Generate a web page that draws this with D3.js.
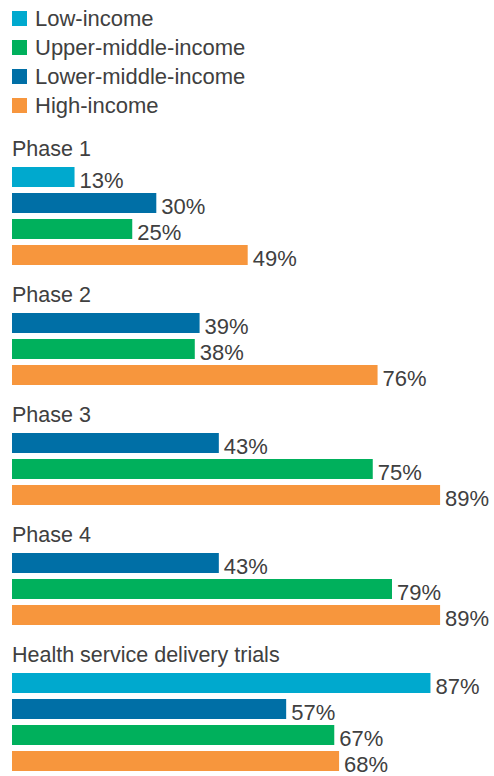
<!DOCTYPE html>
<html>
<head>
<meta charset="utf-8">
<script src="https://cdn.jsdelivr.net/npm/d3@7"></script>
<style>
  body { margin: 0; background: #fff; }
  svg { display: block; }
  text { font-family: "Liberation Sans", Arial, sans-serif; fill: #404040; font-size: 22px; }
  .title { font-size: 21.5px; }
</style>
</head>
<body>
<div id="chart"></div>
<script>
// legend / series
const groups = ['Low-income', 'Upper-middle-income', 'Lower-middle-income', 'High-income'];
const colors = ['#00a9ce', '#00b05c', '#006fa6', '#f7963d'];

// sections, bars listed top to bottom
const sections = ['Phase 1', 'Phase 2', 'Phase 3', 'Phase 4', 'Health service delivery trials'];
const barGroups = [
  ['Low-income', 'Lower-middle-income', 'Upper-middle-income', 'High-income'],
  ['Lower-middle-income', 'Upper-middle-income', 'High-income'],
  ['Lower-middle-income', 'Upper-middle-income', 'High-income'],
  ['Lower-middle-income', 'Upper-middle-income', 'High-income'],
  ['Low-income', 'Lower-middle-income', 'Upper-middle-income', 'High-income']
];
const barValues = [
  [13, 30, 25, 49],
  [39, 38, 76],
  [43, 75, 89],
  [43, 79, 89],
  [87, 57, 67, 68]
];

const width = 494;
const height = 776;
const left = 12;
const barH = 20;
const pitch = 26;
const sectionGap = 42;
const firstBar = 167;

const color = d3.scaleOrdinal().domain(groups).range(colors);
const x = d3.scaleLinear().domain([0, 100]).range([0, 481]);

const svg = d3.select('#chart').append('svg')
  .attr('width', width)
  .attr('height', height);

// legend
const legend = svg.append('g').attr('class', 'legend');
const item = legend.selectAll('g')
  .data(groups)
  .enter()
  .append('g')
  .attr('transform', (d, i) => `translate(${left}, ${11 + i * 29})`);
item.append('rect')
  .attr('width', 15)
  .attr('height', 15)
  .attr('fill', d => color(d));
item.append('text')
  .attr('x', 23)
  .attr('y', 15)
  .text(d => d);

// work out where each section starts
let y0 = firstBar;
const rows = sections.map((name, i) => {
  const top = y0;
  y0 += barValues[i].length * pitch + sectionGap;
  return {
    name,
    top,
    bars: barValues[i].map((v, j) => ({ group: barGroups[i][j], value: v }))
  };
});

const sec = svg.selectAll('.section')
  .data(rows)
  .enter()
  .append('g')
  .attr('class', 'section')
  .attr('transform', d => `translate(${left}, ${d.top})`);

sec.append('text')
  .attr('class', 'title')
  .attr('x', 0)
  .attr('y', -11)
  .text(d => d.name);

const bar = sec.selectAll('.bar')
  .data(d => d.bars)
  .enter()
  .append('g')
  .attr('class', 'bar')
  .attr('transform', (d, i) => `translate(0, ${i * pitch})`);

bar.append('rect')
  .attr('width', d => x(d.value))
  .attr('height', barH)
  .attr('fill', d => color(d.group));

bar.append('text')
  .attr('x', d => x(d.value) + 5)
  .attr('y', barH + 1)
  .text(d => `${d.value}%`);
</script>
</body>
</html>
